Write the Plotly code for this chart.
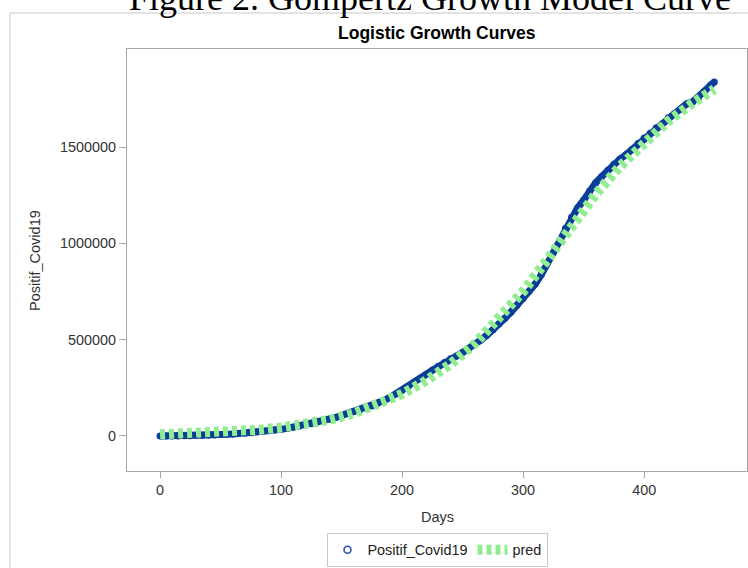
import plotly.graph_objects as go

# ---- data ----
obs_days = [0, 5, 10, 15, 20, 25, 30, 35, 40, 45, 50, 55, 60, 65, 70, 75, 80, 85, 90, 95,
            100, 105, 110, 115, 120, 125, 130, 135, 140, 145, 150, 155, 160, 165, 170, 175,
            180, 185, 190, 195, 200, 205, 210, 215, 220, 225, 230, 235, 240, 245, 250, 255,
            260, 265, 270, 275, 280, 285, 290, 295, 300, 305, 310, 315, 320, 325, 330, 335,
            340, 345, 350, 355, 360, 365, 370, 375, 380, 385, 390, 395, 400, 405, 410, 415,
            420, 425, 430, 435, 440, 445, 450, 455, 458]
obs_cases = [2, 4, 34, 172, 514, 1046, 1677, 2491, 3842, 5516, 7135, 8882, 10551, 12438,
             14265, 17025, 20162, 23165, 26473, 30514, 34316, 39294, 45029, 50187, 56385,
             63749, 72347, 80094, 88214, 95418, 106336, 115056, 125396, 135123, 144945,
             155412, 169195, 184268, 200035, 218382, 236519, 257388, 278722, 299506, 320564,
             340622, 361867, 381910, 400483, 415402, 433836, 452291, 474455, 497668, 522581,
             549508, 581550, 611631, 643508, 678125, 713365, 751270, 788402, 836718, 896642,
             951651, 1012350, 1078314, 1134854, 1183555, 1223930, 1271353, 1314634, 1347026,
             1379662, 1410134, 1437283, 1460184, 1487541, 1517854, 1547376, 1571824, 1599763,
             1620569, 1651794, 1672880, 1697305, 1723596, 1734285, 1758898, 1791221, 1821703,
             1837126]

pred_days = [0, 20, 40, 60, 80, 100, 120, 140, 160, 180, 200, 220, 240, 260, 280, 300,
             320, 340, 360, 380, 400, 420, 440, 458]
pred_cases = [8500, 11800, 16400, 22700, 31500, 43500, 60000, 84000, 117000, 162000, 218000,
              288000, 373000, 478000, 605000, 750000, 915000, 1090000, 1255000, 1400000,
              1525000, 1635000, 1728000, 1800000]

x_ticks = [0, 100, 200, 300, 400]
y_ticks = [0, 500000, 1000000, 1500000]

caption = "Figure 2. Gompertz Growth Model Curve"
title = "Logistic Growth Curves"
x_title = "Days"
y_title = "Positif_Covid19"
obs_name = "Positif_Covid19"
pred_name = "pred"

BLUE = "#0B3D9A"
GREEN = "#90EE90"
FONT = "Liberation Sans, Arial, sans-serif"

fig = go.Figure()

# observed: dense band of points
fig.add_trace(go.Scatter(
    x=obs_days, y=obs_cases, mode="lines+markers",
    line=dict(color=BLUE, width=7),
    marker=dict(color=BLUE, size=7, symbol="circle"),
    showlegend=False, hoverinfo="skip"))
# legend entry for observed
fig.add_trace(go.Scatter(
    x=[None], y=[None], mode="markers", name=obs_name,
    marker=dict(color="#2A4DB5", size=7, symbol="circle-open",
                line=dict(color="#2A4DB5", width=1.5))))
# predicted
fig.add_trace(go.Scatter(
    x=pred_days, y=pred_cases, mode="lines", name=pred_name,
    line=dict(color=GREEN, width=10, dash="5px,4px")))

axis_common = dict(
    showgrid=False, zeroline=False, showline=True, mirror=True,
    linecolor="#A8A8A8", linewidth=1, ticks="outside", tickcolor="#A8A8A8",
    tickfont=dict(family=FONT, size=14.4, color="#333333"))

fig.update_xaxes(range=[-27.3, 485], tickvals=x_ticks, ticklen=6, **axis_common)
fig.update_yaxes(range=[-182000, 2009000], tickvals=y_ticks, tickformat="d",
                 ticklen=7, **axis_common)

fig.update_layout(
    width=748, height=568,
    margin=dict(l=127, r=1, t=49, b=97, autoexpand=False),
    paper_bgcolor="white", plot_bgcolor="white",
    font=dict(family=FONT, size=14.4, color="#333333"),
    showlegend=True,
    legend=dict(orientation="h", x=0.5, xanchor="center", y=-0.1872, yanchor="middle",
                bordercolor="#C8C8C8", borderwidth=1, font=dict(size=14.4, color="#222222"),
                tracegroupgap=0),
    shapes=[dict(type="rect", xref="paper", yref="paper",
                 x0=-0.1887, x1=2.0, y0=-1.0, y1=1.0853,
                 line=dict(color="#C8C8C8", width=1), layer="below")],
    annotations=[
        dict(text=caption, xref="paper", yref="paper", x=0.489, y=1.122,
             xanchor="center", yanchor="middle", showarrow=False,
             font=dict(family="Liberation Serif, serif", size=36, color="#000000")),
        dict(text="<b>" + title + "</b>", xref="paper", yref="paper", x=0.5, y=1.0379,
             xanchor="center", yanchor="middle", showarrow=False,
             font=dict(family=FONT, size=17.5, color="#000000")),
        dict(text=x_title, xref="paper", yref="paper", x=0.5, y=-0.109,
             xanchor="center", yanchor="middle", showarrow=False,
             font=dict(family=FONT, size=14.5, color="#333333")),
        dict(text=y_title, xref="paper", yref="paper", x=-0.1484, y=0.5,
             xanchor="center", yanchor="middle", showarrow=False, textangle=-90,
             font=dict(family=FONT, size=14.5, color="#333333")),
    ],
)

fig.write_html("out.html", config={"displayModeBar": False},
               post_script="document.body.style.margin='0';document.body.style.overflow='hidden';")
